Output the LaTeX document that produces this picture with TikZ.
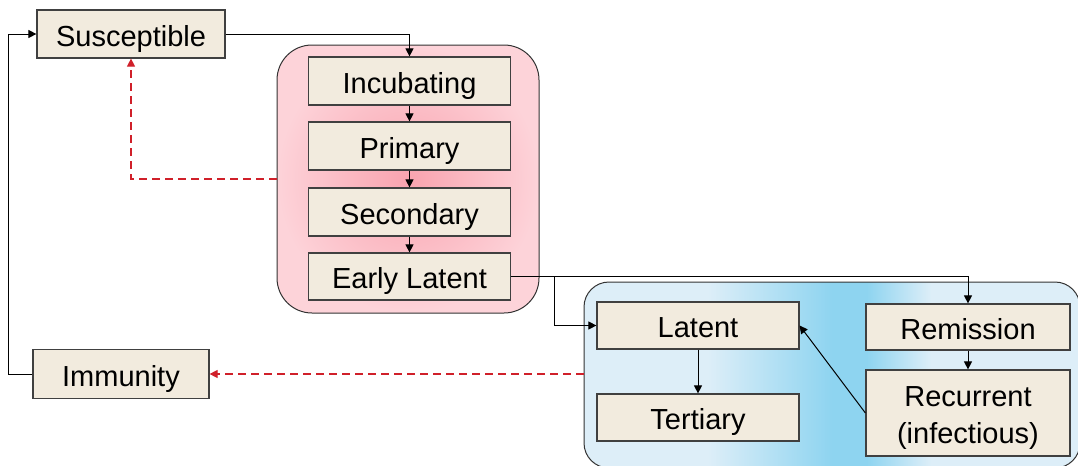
\documentclass[tikz,border=0pt]{standalone}
\usepackage{fontspec}
\setmainfont{Liberation Sans}
\usetikzlibrary{arrows.meta,positioning,calc}
\definecolor{boxfill}{HTML}{F2EBDE}
\definecolor{boxline}{HTML}{404040}
\definecolor{pinkin}{HTML}{F9A3AF}
\definecolor{pinkout}{HTML}{FDD3D9}
\definecolor{bluelt}{HTML}{DDEEF8}
\definecolor{bluedk}{HTML}{8ED4F0}
\definecolor{dashred}{HTML}{D0202A}
\pgfdeclarehorizontalshading{latshade}{100bp}{color(0bp)=(bluelt); color(37.5bp)=(bluelt);
  color(50bp)=(bluedk); color(53.5bp)=(bluedk); color(60bp)=(bluelt); color(100bp)=(bluelt)}
\tikzset{
  % state boxes, sizes in pixels of the picture
  block/.style={draw=boxline, line width=0.6pt, rectangle, fill=boxfill,
  inner sep=0pt, minimum height=24pt, minimum width=101pt,
  font=\fontsize{14.5}{18.5}\selectfont, align=center,
  text height=13.6pt, text depth=1.2pt},
  group/.style={draw=black!80, line width=0.5pt, rectangle, inner sep=0pt},
  link/.style={line width=0.5pt, -{Triangle[length=4pt,width=4pt]}},
  back/.style={dashred, line width=0.6pt, dash pattern=on 4pt off 2.5pt,
  -{Triangle[length=4pt,width=4pt]}}}
\begin{document}
\begin{tikzpicture}[x=0.5pt,y=-0.5pt]
\useasboundingbox (0,0) rectangle (1078,466);

\draw (408,179) node (infbox) [group, rounded corners=17.5pt, minimum width=131pt, minimum height=134pt,
  inner color=pinkin, outer color=pinkout] {};
\draw (832,375) node (latbox) [group, rounded corners=12.5pt, minimum width=248pt, minimum height=93pt,
  shading=latshade] {};

\draw (131,34) node (sus) [block, minimum width=94pt] {Susceptible};
\draw (121,374) node (imm) [block, minimum width=88pt, minimum height=24.5pt] {Immunity};

\draw (409.5,81) node (inc) [block] {Incubating};
\draw (409.5,146) node (pri) [block] {Primary};
\draw (409.5,212) node (sec) [block] {Secondary};
\draw (409.5,276.5) node (el) [block, minimum height=23.5pt] {Early Latent};

\draw (698,325.5) node (lat) [block, minimum height=23.5pt] {Latent};
\draw (698,417.5) node (ter) [block, minimum height=23.5pt] {Tertiary};
\draw (968,327) node (rem) [block, minimum width=102pt, minimum height=23pt] {Remission};
\draw (968,413) node (rec) [block, minimum width=102pt, minimum height=43pt] {};
\draw ([yshift=-2.5pt]rec.center) node [font=\fontsize{14.5}{18.5}\selectfont, align=center] {Recurrent\\(infectious)};

\draw [link] (sus.east) -| (inc.north);
\draw [link] (inc) -- (pri);
\draw [link] (pri) -- (sec);
\draw [link] (sec) -- (el);

\path(el.east) -- +(43, 0) coordinate(split);
\draw [link] (el.east) -| (rem.north);
\draw [link] (split) |- (lat.west);

\draw [link] (lat) -- (ter);
\draw [link] (rem) -- (rec);
\draw [link] (rec.west) -- (lat.east);

\path(imm.west) -- +(-24, 0) coordinate(lft);
\draw [link] (imm.west) -- (lft) |- (sus.west);

\draw [back] (infbox.west) -| (sus.south);
\draw [back] (imm.east -| latbox.west) -- (imm.east);

\end{tikzpicture}
\end{document}
